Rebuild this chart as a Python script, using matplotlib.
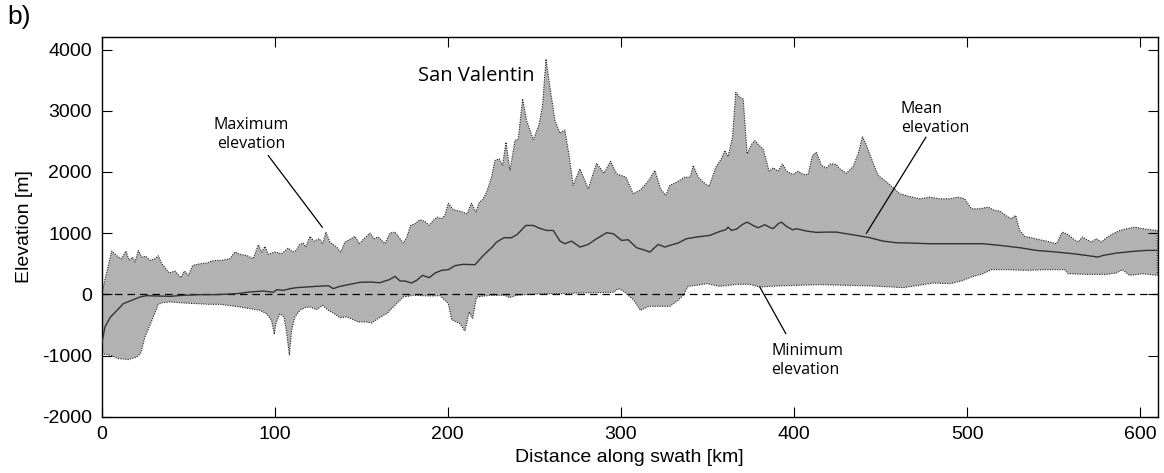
import matplotlib
matplotlib.use("Agg")
import matplotlib.pyplot as plt

# ---- data ----
max_km = [0, 5.9, 9.7, 11.6, 14.1, 16.1, 18, 19.3, 21.3, 23.2, 25.7, 28, 30.9, 32.8, 34.8, 39.2, 42.4,
          45.8, 47.9, 50.2, 52.7, 57, 60.8, 63.6, 66.5, 69.4, 74.2, 77, 79.9, 83.8, 87.6, 90.6, 92.5,
          94.4, 96.3, 100.2, 104, 107.8, 110.4, 112.6, 114.2, 116.5, 118, 120.4, 122.7, 125.8, 127.7,
          129.6, 131.9, 135.8, 138.1, 140.6, 143.1, 146.4, 148.9, 151.6, 155.1, 157.4, 159.9, 163.7,
          166.6, 169.5, 172.4, 174.3, 176.2, 178.5, 181, 183.9, 186.8, 189.3, 191.6, 193.9, 196.4,
          198.3, 200.3, 203.2, 207, 211.2, 213.7, 216.2, 218.2, 220.1, 222.4, 225.3, 227.2, 229.7,
          231.6, 233.6, 235.9, 238.8, 240.7, 243.2, 245.5, 249.4, 252.8, 254.7, 256.7, 259, 261.9,
          264.8, 267.6, 270.2, 272.4, 276.3, 281.1, 285.9, 290.2, 294, 297.5, 302.9, 307.1, 311.3,
          315.8, 319.6, 322.9, 325.9, 328.2, 332.1, 336.9, 340.1, 341.7, 344.6, 347.5, 350.9, 354.8,
          358, 360, 361.9, 364.4, 366.3, 368.6, 370.6, 372.9, 375.4, 377.3, 379.8, 382.1, 385.6,
          387.9, 390.8, 393.3, 395.6, 399.4, 402.3, 405.2, 408.1, 410.6, 412.9, 415.8, 418.7, 421,
          424.4, 426.4, 430.2, 434.1, 437, 439.5, 441.8, 444.7, 448.5, 452.4, 456.8, 461, 466.8,
          472.6, 478.3, 484.1, 489.9, 494.7, 498.5, 502.4, 507.2, 512, 515.9, 518.8, 522.2, 525.5,
          528, 530.3, 533.2, 537, 541.9, 545.7, 551.5, 554.9, 558.2, 561.1, 564, 566.5, 569.2,
          571.7, 574.6, 577.5, 580.4, 584.2, 588.1, 592, 596.7, 601.5, 606.3, 609.8]
max_elev = [0, 707, 609, 582, 707, 555, 609, 528, 718, 609, 620, 555, 582, 631, 500, 348, 381,
            272, 381, 310, 473, 500, 511, 544, 555, 555, 582, 691, 653, 636, 582, 810, 691,
            783, 653, 691, 664, 756, 691, 718, 810, 838, 772, 947, 870, 908, 827,
            1017, 854, 772, 691, 854, 892, 947, 827, 908, 1001, 908, 936, 827,
            1001, 1017, 908, 838, 925, 1126, 1153, 1219, 1191, 1126, 1208, 1262, 1235,
            1289, 1491, 1382, 1360, 1316, 1491, 1344, 1507, 1545, 1670, 1915, 2187, 2214,
            2105, 2486, 2024, 2513, 2540, 3193, 2840, 2524, 2785, 3084, 3846, 3384, 2840,
            2633, 2687, 2241, 1779, 2051, 1724, 2143, 1980, 2176, 1969, 1915, 1643, 1708,
            1850, 2024, 1724, 1616, 1779, 1833, 1915, 1915, 2105, 1915, 1833, 1763, 2078,
            2214, 2350, 2252, 2568, 3302, 3220, 3193, 2296, 2448, 2513, 2432, 2377, 2013,
            2067, 2013, 2132, 2013, 1958, 2013, 1958, 1958, 2268, 2323, 2105, 2067, 2132,
            2122, 2051, 1980, 2089, 2296, 2578, 2432, 2214, 1942, 1860, 1752, 1643, 1599,
            1561, 1588, 1561, 1561, 1588, 1561, 1398, 1398, 1425, 1371, 1360, 1289, 1235,
            1289, 1044, 947, 925, 892, 870, 827, 1017, 979, 908, 854, 936, 892,
            854, 908, 854, 925, 990, 1044, 1072, 1099, 1072, 1055, 1044]

min_km = [0, 5.2, 9.7, 15.5, 20.3, 22.6, 25.1, 27.6, 29.9, 32.8, 35.3, 39.5, 47.2, 54.9, 61.7, 68.4,
          74.2, 79.9, 85.7, 91.5, 95.3, 98.2, 99.8, 100.7, 103, 105.4, 106.9, 108.5, 109.8, 111.7,
          114.6, 117.5, 120.4, 124.2, 127.7, 131, 133.9, 137.7, 141.6, 145.4, 148.3, 153.1, 156,
          158.9, 162.8, 164.7, 168.5, 174.3, 180.1, 189.7, 195.5, 200.3, 202.2, 207, 209.9, 212.4,
          214.3, 216.6, 224.3, 233, 235.5, 239.7, 247.4, 257, 266.7, 276.3, 285.9, 295.6, 298.4,
          301.3, 307.1, 311.3, 316.3, 322.1, 328.2, 333, 335.9, 338.8, 343.6, 349.4, 357.1, 366.7,
          374.4, 380.2, 389.8, 401.4, 414.8, 430.2, 445.6, 463, 470.7, 480.3, 489.9, 496.6, 502.4,
          509.1, 513.9, 522.6, 534.2, 545.7, 556.3, 558.2, 568.8, 580.4, 586.1, 589.6, 593.8,
          601.5, 609.8]
min_elev = [-968, -995, -1050, -1066, -1023, -968, -696, -533, -370, -163, -136, -125, -141, -152,
            -163, -163, -185, -207, -234, -261, -316, -424, -653, -479, -316, -370, -615, -996,
            -588, -370, -261, -218, -207, -250, -180, -261, -305, -381, -370, -413, -452, -452,
            -468, -413, -343, -316, -207, -44, -16, -27, -22, -152, -413, -479, -598, -288,
            -397, -44, -16, -16, -54, -16, 0, 11, 11, 22, 27, 33, 93,
            54, -87, -261, -196, -196, -196, -98, -16, 131, 147, 174, 131, 163,
            163, 120, 136, 147, 158, 147, 136, 109, 141, 185, 174, 218, 283,
            337, 403, 403, 392, 403, 403, 337, 326, 326, 348, 403, 310,
            337, 310]

mean_km = [0, 2.0, 5.2, 9, 12.6, 18.4, 22.2, 26.1, 31.9, 39.5, 47.2, 56.8, 66.5, 78, 85.7, 93.4,
           99.2, 101.2, 105, 108.9, 112.7, 118.5, 124.2, 131, 133.9, 137.7, 143.5, 149.3, 155.1,
           160.8, 163.7, 166.2, 169.5, 172.4, 175.2, 179.1, 182, 185.4, 189.3, 192.6, 196.4, 200.3,
           204.1, 208.9, 215.7, 220.5, 225.3, 228.2, 232.4, 236.8, 240.1, 245.1, 249.4, 252.2, 257,
           260.9, 264.8, 267.6, 271.5, 276.3, 281.1, 285.9, 291.7, 295.6, 300.4, 304.2, 309, 312.9,
           316.7, 321.5, 325.4, 328.2, 333, 337.8, 343.6, 351.3, 357.1, 360.5, 361.9, 363.8, 366.7,
           370.2, 372.9, 376.3, 379.2, 383.1, 385.6, 387.9, 390.8, 392.7, 395.6, 399.1, 401.4, 407.1,
           412.9, 418.7, 424.4, 430.2, 436, 443.7, 451.4, 459.1, 466.8, 478.3, 489.9, 501.5, 509.1,
           518.8, 530.3, 539.9, 551.5, 561.1, 568.8, 575.5, 578.4, 586.1, 595.7, 603.5, 609.8]
mean_elev = [-832, -533, -370, -261, -152, -87, -44, -22, -27, -33, -16, -5, -5, 11, 38, 54,
             33, 76, 65, 93, 109, 120, 131, 141, 93, 131, 163, 196, 201,
             190, 218, 239, 294, 218, 218, 185, 228, 310, 272, 348, 392, 403,
             468, 490, 484, 636, 762, 854, 925, 925, 979, 1126, 1126, 1088, 1044,
             1044, 870, 827, 870, 772, 816, 908, 1006, 990, 881, 892, 762, 729,
             691, 816, 772, 800, 838, 908, 936, 963, 1028, 1055, 1099, 1044, 1066,
             1142, 1180, 1126, 1088, 1137, 1099, 1072, 1153, 1180, 1110, 1055, 1072, 1034,
             1012, 1017, 1017, 990, 963, 925, 870, 843, 838, 827, 827, 827, 827,
             800, 762, 718, 691, 664, 636, 609, 636, 674, 702, 718, 718]

x_ticks = [0, 100, 200, 300, 400, 500, 600]
y_ticks = [-2000, -1000, 0, 1000, 2000, 3000, 4000]

# ---- figure ----
plt.rcParams['font.family'] = ['Liberation Sans', 'DejaVu Sans']
fig = plt.figure(figsize=(11.64, 4.73), dpi=100)
ax = fig.add_axes([0.0872, 0.1190, 0.9074, 0.8021])

poly_x = list(max_km) + list(min_km)[::-1]
poly_y = list(max_elev) + list(min_elev)[::-1]
ax.fill(poly_x, poly_y, facecolor='#b2b2b2', edgecolor='#222222', linestyle=(0, (1, 1.2)),
        linewidth=0.8, zorder=1)
ax.axhline(0, color='black', linestyle=(0, (6, 4)), linewidth=0.9, zorder=2)
ax.plot(mean_km, mean_elev, color='#333333', linewidth=1.0, zorder=3)

ax.set_xlim(0, 610)
ax.set_ylim(-2000, 4200)
ax.set_xticks(x_ticks)
ax.set_yticks(y_ticks)
ax.tick_params(direction='in', top=True, right=True, length=7, width=0.8, labelsize=14,
               pad=7)
ax.set_xticklabels([str(v) for v in x_ticks])
ax.set_yticklabels([str(v) for v in y_ticks])
for s in ax.spines.values():
    s.set_linewidth(1.0)
ax.set_xlabel('Distance along swath [km]', fontsize=14, labelpad=4)
ax.set_ylabel('Elevation [m]', fontsize=14, labelpad=6)

fig.text(0.006, 0.99, 'b)', fontsize=19, va='top', ha='left')

afont = ['Open Sans', 'DejaVu Sans']
ax.text(182.7, 3480, 'San Valentin', fontsize=14.5, family=afont, ha='left', va='baseline')
ax.text(86.7, 2620, 'Maximum\nelevation', fontsize=11.5, family=afont, ha='center',
        va='center', linespacing=1.25)
ax.plot([96.3, 127.5], [2268, 1098], color='black', linewidth=0.9)
ax.text(461.6, 2880, 'Mean\nelevation', fontsize=11.5, family=afont, ha='left',
        va='center', linespacing=1.25)
ax.plot([476.1, 441.8], [2566, 1000], color='black', linewidth=0.9)
ax.text(387.0, -1080, 'Minimum\nelevation', fontsize=11.5, family=afont, ha='left',
        va='center', linespacing=1.25)
ax.plot([380.2, 395.2], [119, -641], color='black', linewidth=0.9)

fig.savefig('out.png', dpi=100)
